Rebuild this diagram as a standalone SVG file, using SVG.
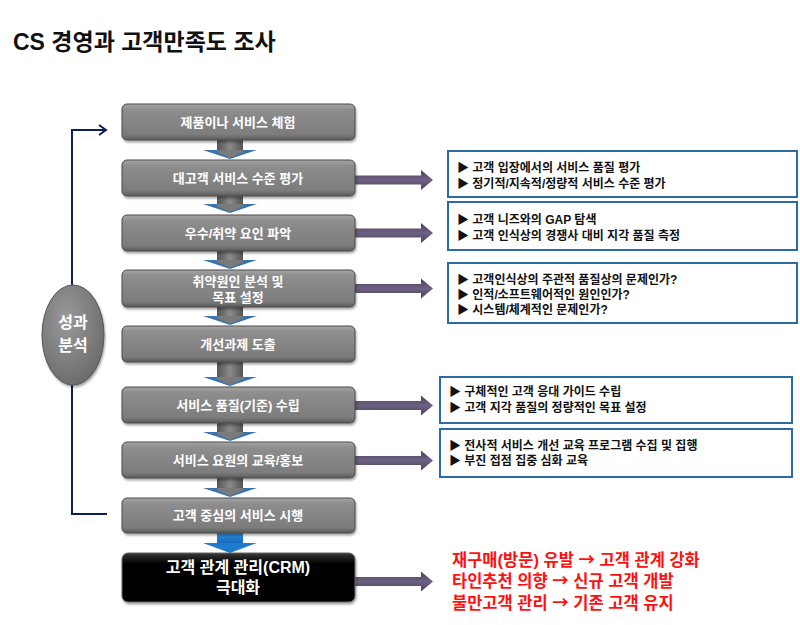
<svg xmlns="http://www.w3.org/2000/svg" width="800" height="625" viewBox="0 0 800 625">
<defs>
<style>
.ff{font-family:"Liberation Sans","Noto Sans CJK KR",sans-serif;font-weight:bold}
.bt{font-size:13px;fill:#fff;text-anchor:middle}
.rt{font-size:12px;fill:#111}
.red{font-size:16.5px;fill:#ff1010}
.ar{font-family:"Noto Sans CJK KR",sans-serif}
.rbox{fill:#fff;stroke:#2c6aa3;stroke-width:2}
.step{fill:url(#gg);stroke:#4a4a4a;stroke-width:1}
.nav{fill:none;stroke:#0d1f55;stroke-width:2}
.pur{fill:url(#pg)}
.shaft{fill:url(#sg)}
.head{fill:#3a74ac}
</style>
<linearGradient id="gg" x1="0" y1="0" x2="0" y2="1">
<stop offset="0" stop-color="#a6a6a6"/>
<stop offset="0.15" stop-color="#8e8e8e"/>
<stop offset="0.85" stop-color="#7c7c7c"/>
<stop offset="1" stop-color="#5a5a5a"/>
</linearGradient>
<linearGradient id="bg" x1="0" y1="0" x2="0" y2="1">
<stop offset="0" stop-color="#3a3a3a"/>
<stop offset="0.2" stop-color="#050505"/>
<stop offset="1" stop-color="#000"/>
</linearGradient>
<linearGradient id="pg" x1="0" y1="0" x2="0" y2="1">
<stop offset="0" stop-color="#4d3f5e"/>
<stop offset="0.5" stop-color="#6e6080"/>
<stop offset="1" stop-color="#4d3f5e"/>
</linearGradient>
<linearGradient id="sg" x1="0" y1="0" x2="1" y2="0">
<stop offset="0" stop-color="#555"/>
<stop offset="0.5" stop-color="#8a8a8a"/>
<stop offset="1" stop-color="#555"/>
</linearGradient>
<linearGradient id="blg" x1="0" y1="0" x2="0" y2="1">
<stop offset="0" stop-color="#2f8ee0"/>
<stop offset="1" stop-color="#1565b8"/>
</linearGradient>
<radialGradient id="og" cx="0.4" cy="0.35" r="0.7">
<stop offset="0" stop-color="#9a9a9a"/>
<stop offset="1" stop-color="#6a6a6a"/>
</radialGradient>
<filter id="sh" x="-5%" y="-10%" width="110%" height="130%">
<feDropShadow dx="1" dy="2" stdDeviation="1.2" flood-color="#000" flood-opacity="0.35"/>
</filter>
<marker id="oa" markerWidth="12" markerHeight="12" refX="9" refY="6" orient="auto" markerUnits="userSpaceOnUse">
<path d="M2,1 L9,6 L2,11" fill="none" stroke="#0d1f55" stroke-width="2"/>
</marker>
</defs>
<rect width="800" height="625" fill="#fff"/>
<text class="ff" x="13" y="50" font-size="23" fill="#111">CS 경영과 고객만족도 조사</text>

<g id="connectors">
<path class="nav" d="M72 285 V130 H106" marker-end="url(#oa)"/>
<path class="nav" d="M72 385 V514 H107"/>
<g id="down-arrows">
<rect class="shaft" x="217" y="140" width="26" height="11"/><polygon class="head" points="203,150 257,150 230,159"/><polygon fill="#7a7a7a" points="217,150 243,150 243,152 230,158 217,152"/>
<rect class="shaft" x="217" y="196" width="26" height="9"/><polygon class="head" points="203,204 257,204 230,213"/><polygon fill="#7a7a7a" points="217,204 243,204 243,206 230,212 217,206"/>
<rect class="shaft" x="217" y="251" width="26" height="10"/><polygon class="head" points="203,260 257,260 230,269"/><polygon fill="#7a7a7a" points="217,260 243,260 243,262 230,268 217,262"/>
<rect class="shaft" x="217" y="307" width="26" height="10"/><polygon class="head" points="203,316 257,316 230,325"/><polygon fill="#7a7a7a" points="217,316 243,316 243,318 230,324 217,318"/>
<rect class="shaft" x="217" y="362" width="26" height="16"/><polygon class="head" points="203,377 257,377 230,386"/><polygon fill="#7a7a7a" points="217,377 243,377 243,379 230,385 217,379"/>
<rect class="shaft" x="217" y="423" width="26" height="10"/><polygon class="head" points="203,432 257,432 230,441"/><polygon fill="#7a7a7a" points="217,432 243,432 243,434 230,440 217,434"/>
<rect class="shaft" x="217" y="478" width="26" height="11"/><polygon class="head" points="203,488 257,488 230,497"/><polygon fill="#7a7a7a" points="217,488 243,488 243,490 230,496 217,490"/>
<rect x="217" y="533" width="26" height="11" fill="url(#blg)"/><polygon points="203,543 257,543 230,553" fill="#1f7ad0"/>
</g>
<g id="side-arrows">
<path class="pur" d="M355 175.5 H421 V170 L433 180 L421 190 V184.5 H355 Z"/>
<path class="pur" d="M355 228.5 H421 V223 L433 233 L421 243 V237.5 H355 Z"/>
<path class="pur" d="M355 284 H421 V278.5 L433 288.5 L421 298.5 V293 H355 Z"/>
<path class="pur" d="M355 401 H421 V395.5 L433 405.5 L421 415.5 V410 H355 Z"/>
<path class="pur" d="M355 456 H421 V450.5 L433 460.5 L421 470.5 V465 H355 Z"/>
<path class="pur" d="M355 577 H421 V571.5 L433 581.5 L421 591.5 V586 H355 Z"/>
</g>
</g>

<g id="perf">
<ellipse cx="73" cy="335" rx="31" ry="50" fill="url(#og)" stroke="#555" stroke-width="1" filter="url(#sh)"/>
<text class="ff" font-size="16" fill="#fff" text-anchor="middle"><tspan x="73" y="328">성과</tspan><tspan x="73" y="351">분석</tspan></text>
</g>

<g id="s1"><rect class="step" x="122" y="104" width="233" height="36" rx="5" filter="url(#sh)"/><text class="ff bt" x="238" y="127">제품이나 서비스 체험</text></g>
<g id="s2"><rect class="step" x="122" y="160" width="233" height="36" rx="5" filter="url(#sh)"/><text class="ff bt" x="238" y="183">대고객 서비스 수준 평가</text></g>
<g id="s3"><rect class="step" x="122" y="215" width="233" height="36" rx="5" filter="url(#sh)"/><text class="ff bt" x="238" y="238">우수/취약 요인 파악</text></g>
<g id="s4"><rect class="step" x="122" y="270" width="233" height="37" rx="5" filter="url(#sh)"/><text class="ff bt"><tspan x="238" y="286">취약원인 분석 및</tspan><tspan x="238" y="302">목표 설정</tspan></text></g>
<g id="s5"><rect class="step" x="122" y="326" width="233" height="36" rx="5" filter="url(#sh)"/><text class="ff bt" x="238" y="349">개선과제 도출</text></g>
<g id="s6"><rect class="step" x="122" y="387" width="233" height="36" rx="5" filter="url(#sh)"/><text class="ff bt" x="238" y="410">서비스 품질(기준) 수립</text></g>
<g id="s7"><rect class="step" x="122" y="442" width="233" height="36" rx="5" filter="url(#sh)"/><text class="ff bt" x="238" y="465">서비스 요원의 교육/홍보</text></g>
<g id="s8"><rect class="step" x="122" y="498" width="233" height="35" rx="5" filter="url(#sh)"/><text class="ff bt" x="238" y="520">고객 중심의 서비스 시행</text></g>
<g id="s9"><rect x="122" y="553" width="233" height="49" rx="6" fill="url(#bg)" stroke="#666" stroke-width="1" filter="url(#sh)"/><text class="ff" font-size="16" fill="#fff" text-anchor="middle"><tspan x="238" y="573">고객 관계 관리(CRM)</tspan><tspan x="238" y="593">극대화</tspan></text></g>

<g id="r1"><rect class="rbox" x="448" y="151" width="349" height="46"/><text class="ff rt"><tspan x="457" y="172">▶ 고객 입장에서의 서비스 품질 평가</tspan><tspan x="457" y="188">▶ 정기적/지속적/정량적 서비스 수준 평가</tspan></text></g>
<g id="r2"><rect class="rbox" x="448" y="202" width="349" height="48"/><text class="ff rt"><tspan x="457" y="224">▶ 고객 니즈와의 GAP 탐색</tspan><tspan x="457" y="240">▶ 고객 인식상의 경쟁사  대비  지각  품질 측정</tspan></text></g>
<g id="r3"><rect class="rbox" x="448" y="263" width="349" height="60"/><text class="ff rt"><tspan x="457" y="284">▶ 고객인식상의 주관적 품질상의 문제인가?</tspan><tspan x="457" y="299">▶ 인적/소프트웨어적인 원인인가?</tspan><tspan x="457" y="314">▶ 시스템/체계적인 문제인가?</tspan></text></g>
<g id="r4"><rect class="rbox" x="440" y="377" width="352" height="46"/><text class="ff rt"><tspan x="449" y="396">▶ 구체적인 고객 응대 가이드 수립</tspan><tspan x="449" y="412">▶ 고객 지각 품질의 정량적인 목표 설정</tspan></text></g>
<g id="r5"><rect class="rbox" x="440" y="429" width="352" height="48"/><text class="ff rt"><tspan x="449" y="450">▶ 전사적 서비스 개선 교육 프로그램 수집 및 집행</tspan><tspan x="449" y="465">▶ 부진 접점 집중 심화 교육</tspan></text></g>
<g id="r6"><text class="ff red"><tspan x="452" y="566">재구매(방문) 유발 <tspan class="ar">→</tspan> 고객 관계 강화</tspan><tspan x="452" y="587">타인추천 의향 <tspan class="ar">→</tspan> 신규 고객 개발</tspan><tspan x="452" y="609">불만고객 관리 <tspan class="ar">→</tspan> 기존 고객 유지</tspan></text></g>
</svg>
